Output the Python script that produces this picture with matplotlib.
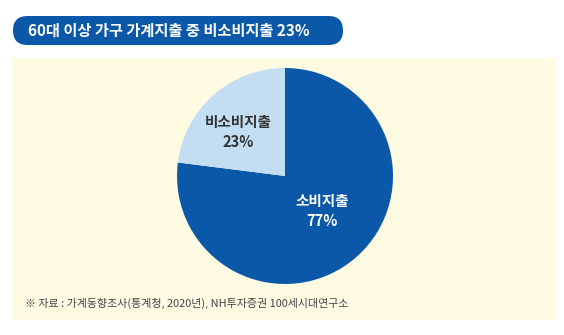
import matplotlib
matplotlib.use("Agg")
import matplotlib.pyplot as plt
from matplotlib.patches import FancyBboxPatch, Rectangle

plt.rcParams['font.family'] = ['Noto Sans CJK KR', 'DejaVu Sans']

labels = ["소비지출", "비소비지출"]
values = [77, 23]
colors = ["#0b58a8", "#c3ddf2"]
text_colors = ["white", "#333333"]
title = "60대 이상 가구 가계지출 중 비소비지출 23%"
source = "※ 자료 : 가계동향조사(통계청, 2020년), NH투자증권 100세시대연구소"

W, H = 564, 335
fig = plt.figure(figsize=(W/100, H/100), dpi=100)
fig.patch.set_facecolor("white")

# background layer in pixel coords
bg = fig.add_axes([0, 0, 1, 1])
bg.set_xlim(0, W); bg.set_ylim(H, 0); bg.axis("off")
bg.add_patch(Rectangle((12, 58), 543, 262, facecolor="#fffbe3", edgecolor="none"))
bg.add_patch(FancyBboxPatch((13, 16), 330, 29, boxstyle="round,pad=0,rounding_size=14.5",
                            mutation_aspect=1, facecolor="#0b58a8", edgecolor="none"))
bg.text(28, 31, title, color="white", fontsize=11, fontweight="bold", va="center", ha="left")
bg.text(25, 303, source, color="#444444", fontsize=7.9, va="center", ha="left")

# pie
cx, cy, r = 285, 176, 108
ax = fig.add_axes([(cx - r)/W, 1 - (cy + r)/H, 2*r/W, 2*r/H])
wedges, _ = ax.pie(values, colors=colors, startangle=90, counterclock=False,
                   wedgeprops=dict(linewidth=0))
ax.set_xlim(-1, 1); ax.set_ylim(-1, 1)
ax.set_aspect("auto")
ax.axis("off")

label_pos = [(322, 211), (238, 132)]
for (lx, ly), lab, v, tc in zip(label_pos, labels, values, text_colors):
    fig.text(lx / W, 1 - ly / H, f"{lab}\n{v}%", color=tc, fontsize=10.5, fontweight="bold",
             ha="center", va="center", linespacing=1.3, zorder=10)

fig.savefig("out.png", dpi=100, facecolor="white")
